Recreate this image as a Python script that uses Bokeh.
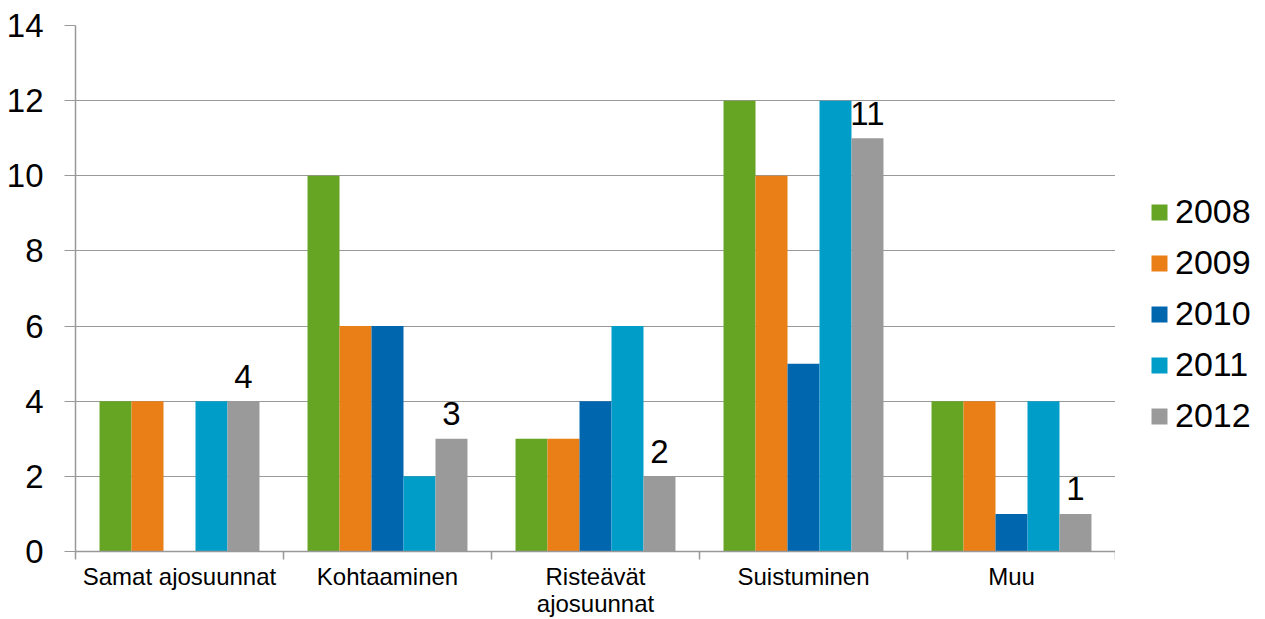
from bokeh.plotting import figure
from bokeh.layouts import row
from bokeh.models import FixedTicker, Legend, LegendItem, ColumnDataSource, Range1d
from bokeh.embed import file_html
from bokeh.resources import INLINE
from bokeh.core.properties import value

categories = ["Samat ajosuunnat", "Kohtaaminen", "Risteävät\najosuunnat", "Suistuminen", "Muu"]
years = ["2008", "2009", "2010", "2011", "2012"]
v2008 = [4, 10, 3, 12, 4]
v2009 = [4, 6, 3, 10, 4]
v2010 = [0, 6, 4, 5, 1]
v2011 = [4, 2, 6, 12, 4]
v2012 = [4, 3, 2, 11, 1]
y_ticks = [0, 2, 4, 6, 8, 10, 12, 14]

series = [v2008, v2009, v2010, v2011, v2012]
colors = ["#65A523", "#EA7E17", "#0066AE", "#009DC8", "#9A9A9A"]
FONT = "Liberation Sans"
GRAY = "#999999"

p = figure(width=1115, height=619, x_range=Range1d(0, 5), y_range=Range1d(0, 14),
           output_backend="svg", toolbar_location=None,
           min_border_left=75, min_border_right=0, min_border_top=25, min_border_bottom=67)
p.outline_line_color = None
p.xgrid.visible = False
p.ygrid.grid_line_color = GRAY
p.ygrid.grid_line_width = 1
p.background_fill_color = "white"

n = len(series)
bw = 0.1538
centers = [i + 0.5 for i in range(len(categories))]
for k, (vals, col) in enumerate(zip(series, colors)):
    off = (k - (n - 1) / 2) * bw
    src = ColumnDataSource(dict(x=[c + off for c in centers], top=vals))
    p.vbar(x="x", top="top", bottom=0, width=bw, source=src,
           fill_color=col, line_color=None)

# data labels for the last series
off_last = ((n - 1) - (n - 1) / 2) * bw
lab_src = ColumnDataSource(dict(x=[c + off_last for c in centers], y=v2012,
                                t=[str(v) for v in v2012]))
p.text(x="x", y="y", text="t", source=lab_src, text_align="center",
       text_baseline="alphabetic", y_offset=-25, text_font=value(FONT),
       text_font_size="33px", text_color="black")

# y axis
ya = p.yaxis[0]
ya.ticker = FixedTicker(ticks=y_ticks, minor_ticks=[])
ya.axis_line_color = GRAY
ya.axis_line_width = 1.5
ya.major_tick_line_color = GRAY
ya.major_tick_out = 11
ya.major_tick_in = 0
ya.minor_tick_line_color = None
ya.major_label_text_font = FONT
ya.major_label_text_font_size = "33px"
ya.major_label_text_color = "black"
ya.major_label_standoff = 21

# x axis
xa = p.xaxis[0]
xa.ticker = FixedTicker(ticks=centers, minor_ticks=list(range(len(categories) + 1)))
xa.major_label_overrides = {c: lab for c, lab in zip(centers, categories)}
xa.axis_line_color = GRAY
xa.axis_line_width = 1.5
xa.major_tick_line_color = None
xa.major_tick_out = 0
xa.major_tick_in = 0
xa.minor_tick_line_color = GRAY
xa.minor_tick_out = 8
xa.minor_tick_in = 0
xa.minor_tick_line_width = 1.5
xa.major_label_text_font = FONT
xa.major_label_text_font_size = "24px"
xa.major_label_text_line_height = 1.0
xa.major_label_text_color = "black"
xa.major_label_standoff = 3

# legend in a narrow companion figure to the right of the plot
pl = figure(width=150, height=619, x_range=Range1d(0, 1), y_range=Range1d(0, 1),
            output_backend="svg", toolbar_location=None,
            x_axis_location=None, y_axis_location=None,
            min_border_left=0, min_border_right=0, min_border_top=0, min_border_bottom=0)
pl.outline_line_color = None
pl.grid.visible = False
leg_renderers = []
for col in colors:
    # a zero-height swatch renderer placed outside the visible range
    r = pl.vbar(x=[-1], top=[0], bottom=0, width=0.1, fill_color=col, line_color=None)
    leg_renderers.append(r)

legend = Legend(items=[LegendItem(label=y, renderers=[r]) for y, r in zip(years, leg_renderers)],
                location=(34, 116), orientation="vertical",
                glyph_width=20, glyph_height=20, label_standoff=6, spacing=12,
                padding=0, margin=0, border_line_color=None, background_fill_alpha=0,
                label_text_font=FONT, label_text_font_size="34px", label_text_color="black")
pl.add_layout(legend, "center")

layout = row(p, pl, spacing=0)
open("out.html", "w").write(file_html(layout, INLINE))
